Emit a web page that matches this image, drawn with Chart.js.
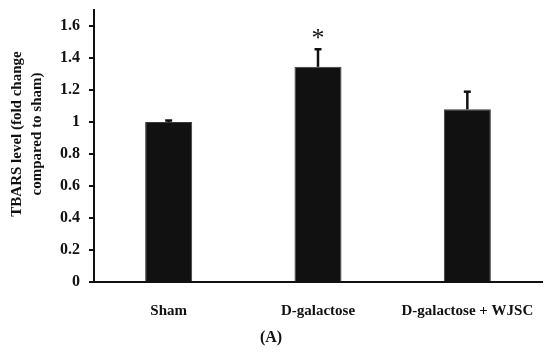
<!DOCTYPE html>
<html>
<head>
<meta charset="utf-8">
<script src="https://cdn.jsdelivr.net/npm/chart.js@4.4.1/dist/chart.umd.min.js"></script>
<style>
  html, body { margin: 0; padding: 0; background: #fff; }
  #wrap { width: 550px; height: 352px; }
</style>
</head>
<body>
<div id="wrap"><canvas id="grafico" width="550" height="352"></canvas></div>
<script>
var grupos = ['Sham', 'D-galactose', 'D-galactose + WJSC'];
var valores = [1.0, 1.345, 1.08];
var errores = [0.01, 0.11, 0.11];
var marcas = ['', '*', ''];
var ticksY = [0, 0.2, 0.4, 0.6, 0.8, 1, 1.2, 1.4, 1.6];
var tituloY = ['TBARS level (fold change', 'compared to sham)'];

var fuente = 'Liberation Serif, Times New Roman, serif';

// barras de error (solo hacia arriba) y asterisco
var barrasError = {
  id: 'barrasError',
  afterDatasetsDraw: function (chart) {
    var ctx = chart.ctx;
    var meta = chart.getDatasetMeta(0);
    var y = chart.scales.y;
    ctx.save();
    ctx.strokeStyle = '#111';
    ctx.fillStyle = '#111';
    for (var i = 0; i < valores.length; i++) {
      var x = meta.data[i].x;
      var y0 = y.getPixelForValue(valores[i]);
      var y1 = y.getPixelForValue(valores[i] + errores[i]);
      ctx.lineWidth = 2.5;
      ctx.beginPath();
      ctx.moveTo(x, y0);
      ctx.lineTo(x, y1);
      ctx.stroke();
      ctx.beginPath();
      ctx.moveTo(x - 3.5, y1);
      ctx.lineTo(x + 3.5, y1);
      ctx.stroke();
      if (marcas[i]) {
        ctx.font = '26px ' + fuente;
        ctx.textAlign = 'center';
        ctx.textBaseline = 'alphabetic';
        ctx.fillText(marcas[i], x, y1 - 3);
      }
    }
    ctx.restore();
  }
};

// titulo del eje y, un poco por encima del centro como en la figura
var tituloEje = {
  id: 'tituloEje',
  afterDraw: function (chart) {
    var ctx = chart.ctx;
    ctx.save();
    ctx.fillStyle = '#111';
    ctx.font = 'bold 15px ' + fuente;
    ctx.textAlign = 'center';
    ctx.textBaseline = 'middle';
    ctx.translate(17, 134);
    ctx.rotate(-Math.PI / 2);
    for (var i = 0; i < tituloY.length; i++) {
      ctx.fillText(tituloY[i], 0, i * 20);
    }
    ctx.restore();
  }
};

new Chart(document.getElementById('grafico'), {
  type: 'bar',
  data: {
    labels: grupos,
    datasets: [{
      data: valores,
      backgroundColor: '#111111',
      borderColor: '#3a3a3a',
      borderWidth: 1,
      barPercentage: 0.63,
      categoryPercentage: 0.5
    }]
  },
  options: {
    responsive: false,
    animation: false,
    layout: { padding: { top: 10, right: 8, left: 0, bottom: 0 } },
    plugins: {
      legend: { display: false },
      tooltip: { enabled: false },
      title: {
        display: true,
        text: '(A)',
        position: 'bottom',
        color: '#111',
        font: { family: fuente, size: 16, weight: 'bold' },
        padding: { top: 3, bottom: 5 }
      }
    },
    scales: {
      x: {
        grid: { display: false },
        border: { display: true, color: '#111', width: 2 },
        ticks: {
          color: '#111',
          padding: 12,
          font: { family: fuente, size: 15, weight: 'bold' }
        },
        afterFit: function (s) { s.height = 42.5; }
      },
      y: {
        min: 0,
        max: 1.7,
        grid: { drawOnChartArea: false, drawTicks: true, tickLength: 5, color: '#111', lineWidth: 2 },
        border: { display: true, color: '#111', width: 2 },
        ticks: {
          color: '#111',
          padding: 9,
          font: { family: fuente, size: 16, weight: 'bold' },
          callback: function (v) { return String(+Number(v).toFixed(1)); }
        },
        afterBuildTicks: function (s) {
          s.ticks = ticksY.map(function (v) { return { value: v }; });
        },
        afterFit: function (s) {
          s.width = 94;
          s.paddingTop = 0;
          s.paddingBottom = 0;
        }
      }
    }
  },
  plugins: [barrasError, tituloEje]
});
</script>
</body>
</html>
